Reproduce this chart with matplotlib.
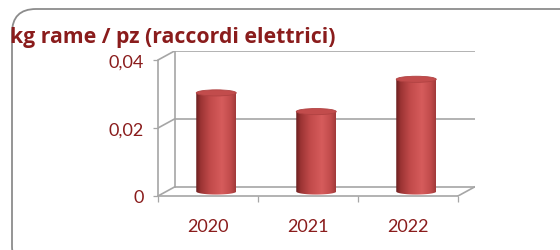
import numpy as np
import matplotlib
matplotlib.use("Agg")
import matplotlib.pyplot as plt
from matplotlib.patches import Ellipse, PathPatch, FancyBboxPatch
from matplotlib.path import Path
from matplotlib.colors import LinearSegmentedColormap

years = ["2020", "2021", "2022"]
values = [0.029, 0.0235, 0.033]
yticks = [0, 0.02, 0.04]
ytick_labels = ["0", "0,02", "0,04"]
title = "kg rame / pz (raccordi elettrici)"

txt_col = "#8a1c1c"
grid_col = "#a6a6a6"

plt.rcParams["font.family"] = ["Lato", "DejaVu Sans"]

W, H = 560, 251
fig = plt.figure(figsize=(W / 100, H / 100), dpi=100)

# depth offset of the pseudo-3d back wall (in data units)
dx = 0.165
dy = 0.00265

# axes placed so that front plane spans x 158..457 px, y 197..61 px
x0px, x1px = 158, 158 + 300 * (3 + dx) / 3
ybot, ytop = 197, 197 - 68 * (0.04 + dy) / 0.02
ax = fig.add_axes([x0px / W, (H - ybot) / H, (x1px - x0px) / W, (ybot - ytop) / H])
ax.set_xlim(-0.5, 2.5 + dx)
ax.set_ylim(0, 0.04 + dy)
for s in ax.spines.values():
    s.set_visible(False)

# walls and gridlines
lw = 1.2
for v in yticks:
    ax.plot([-0.5 + dx, 2.5 + dx], [v + dy, v + dy], color=grid_col, lw=lw, zorder=1)
    ax.plot([-0.5, -0.5 + dx], [v, v + dy], color=grid_col, lw=lw, zorder=1)
ax.plot([-0.5 + dx, -0.5 + dx], [dy, 0.04 + dy], color=grid_col, lw=lw, zorder=1)
ax.plot([-0.5, -0.5], [0, 0.04], color=grid_col, lw=lw, zorder=1, clip_on=False)
ax.plot([-0.5, 2.5], [0, 0], color=grid_col, lw=lw, zorder=1, clip_on=False)
ax.plot([2.5, 2.5 + dx], [0, dy], color=grid_col, lw=lw, zorder=1)

# ticks
ax.set_yticks(yticks)
ax.set_yticklabels(ytick_labels)
ax.tick_params(axis="y", length=3.5, width=0.9, color=grid_col, pad=6.5,
               labelsize=13, labelcolor=txt_col)
ax.set_xticks(range(len(years)))
ax.set_xticklabels(years)
ax.tick_params(axis="x", length=0, pad=16, labelsize=13, labelcolor=txt_col)
ax.set_xticks([-0.5, 0.5, 1.5, 2.5], minor=True)
ax.tick_params(axis="x", which="minor", length=4.5, width=0.9, color=grid_col)

# cylinders
cmap = LinearSegmentedColormap.from_list(
    "cyl", [(0, "#6a1e1e"), (0.12, "#9c3434"), (0.35, "#c14a4a"),
            (0.65, "#d65c5c"), (0.88, "#c04a4a"), (1, "#a03a3a")])
grad = np.linspace(0, 1, 256).reshape(1, -1)
bw = 0.4
eh = 0.0018
for i, v in enumerate(values):
    cx = i + dx / 2
    yb = dy / 2
    yt = v + dy / 2
    th = np.linspace(np.pi, 2 * np.pi, 60)
    xs = list(cx + bw / 2 * np.cos(th)) + [cx + bw / 2, cx - bw / 2, cx - bw / 2]
    ys = list(yb + eh / 2 * np.sin(th)) + [yt, yt, yb]
    body = PathPatch(Path(np.column_stack([xs, ys])), facecolor="none",
                     edgecolor="none", transform=ax.transData)
    ax.add_patch(body)
    im = ax.imshow(grad, cmap=cmap, aspect="auto", interpolation="bilinear",
                   extent=[cx - bw / 2, cx + bw / 2, yb - eh, yt], zorder=3)
    im.set_clip_path(body)
    ax.add_patch(Ellipse((cx, yt), bw, eh, facecolor="#c24c4c",
                         edgecolor="#b04242", lw=0.6, zorder=4))

ax.set_xlim(-0.5, 2.5 + dx)
ax.set_ylim(0, 0.04 + dy)

# title and rounded frame
fig.text(10 / W, 1 - 38 / H, title, fontsize=15.3, fontweight="bold",
         family=["Open Sans", "DejaVu Sans"],
         color=txt_col, va="center", ha="left")
frame = FancyBboxPatch((12, -20), 590, 241 + 20,
                       boxstyle="round,pad=0,rounding_size=24",
                       facecolor="none", edgecolor="#8c8c8c", lw=1.3,
                       transform=None)
fig.patches.append(frame)

fig.savefig("out.png", dpi=100)
